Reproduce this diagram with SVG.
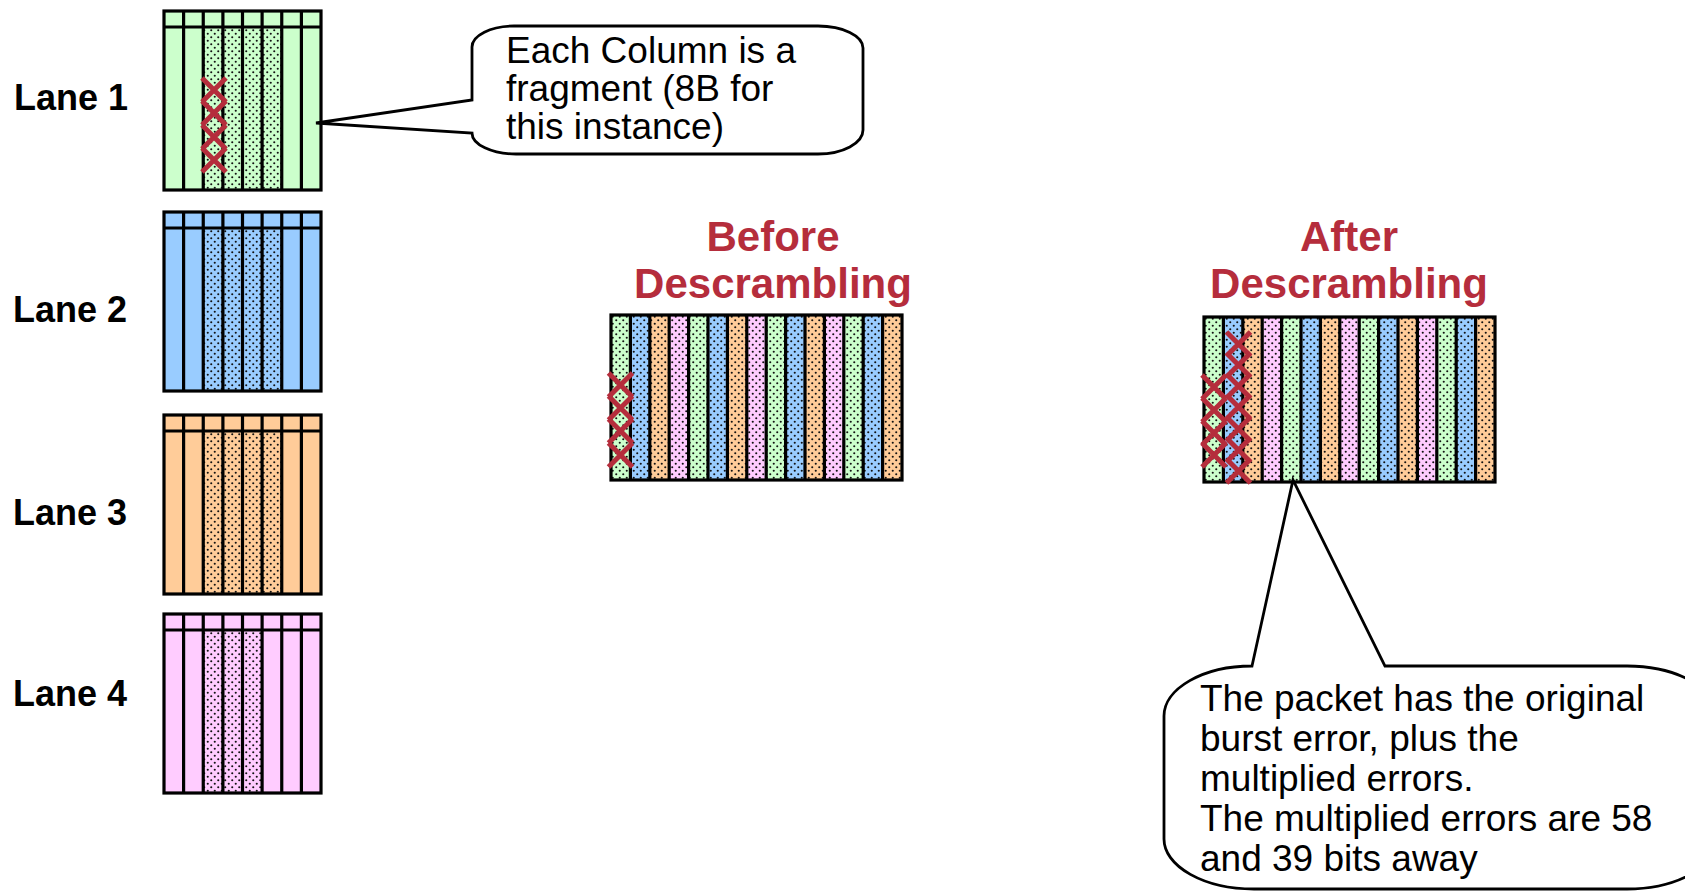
<svg xmlns="http://www.w3.org/2000/svg" xmlns:xlink="http://www.w3.org/1999/xlink" width="1685" height="891" viewBox="0 0 1685 891">
  <style>
    .lbl { font-family: "Liberation Sans", Arial, sans-serif; font-weight: bold; font-size: 36px; fill: #000; }
    .ttl { font-family: "Liberation Sans", Arial, sans-serif; font-weight: bold; font-size: 42px; fill: #B52D3C; text-anchor: middle; }
    .txt { font-family: "Liberation Sans", Arial, sans-serif; font-size: 37px; fill: #000; }
    .grid { fill: none; stroke: #000; stroke-width: 3.2; }
    .bubble { fill: #fff; stroke: #000; stroke-width: 2.8; stroke-linejoin: miter; }
    .err { fill: none; stroke: #B52D3C; stroke-width: 5; stroke-linecap: butt; }
    .g { fill: #CCFFCC; } .b { fill: #99CCFF; } .o { fill: #FFCC99; } .p { fill: #FFCCFF; }
    .dot { fill: url(#dots); }
  </style>
  <defs>
    <!-- stipple used for the shaded fragments -->
    <pattern id="dots" patternUnits="userSpaceOnUse" width="7" height="7">
      <circle cx="1.75" cy="1.75" r="1.05" fill="#111"/>
      <circle cx="5.25" cy="5.25" r="1.05" fill="#111"/>
    </pattern>
    <!-- one bit error mark -->
    <path id="x" class="err" d="M-12,-12 L12,12 M12,-12 L-12,12"/>
    <!-- lane outline: 8 columns with a header row -->
    <g id="laneGrid">
      <rect class="grid" x="0" y="0" width="157" height="179"/>
      <path class="grid" d="M0,16H157 M19.6,0V179 M39.25,0V179 M58.9,0V179 M78.5,0V179 M98.1,0V179 M117.75,0V179 M137.4,0V179"/>
    </g>
    <!-- packet strip: 15 stippled columns in lane order -->
    <g id="strip">
      <rect class="g" x="0" y="0" width="19.4" height="165"/>
      <rect class="b" x="19.4" y="0" width="19.4" height="165"/>
      <rect class="o" x="38.8" y="0" width="19.4" height="165"/>
      <rect class="p" x="58.2" y="0" width="19.4" height="165"/>
      <rect class="g" x="77.6" y="0" width="19.4" height="165"/>
      <rect class="b" x="97" y="0" width="19.4" height="165"/>
      <rect class="o" x="116.4" y="0" width="19.4" height="165"/>
      <rect class="p" x="135.8" y="0" width="19.4" height="165"/>
      <rect class="g" x="155.2" y="0" width="19.4" height="165"/>
      <rect class="b" x="174.6" y="0" width="19.4" height="165"/>
      <rect class="o" x="194" y="0" width="19.4" height="165"/>
      <rect class="p" x="213.4" y="0" width="19.4" height="165"/>
      <rect class="g" x="232.8" y="0" width="19.4" height="165"/>
      <rect class="b" x="252.2" y="0" width="19.4" height="165"/>
      <rect class="o" x="271.6" y="0" width="19.4" height="165"/>
      <rect class="dot" x="0" y="0" width="291" height="165"/>
      <rect class="grid" x="0" y="0" width="291" height="165"/>
      <path class="grid" d="M19.4,0V165 M38.8,0V165 M58.2,0V165 M77.6,0V165 M97,0V165 M116.4,0V165 M135.8,0V165 M155.2,0V165 M174.6,0V165 M194,0V165 M213.4,0V165 M232.8,0V165 M252.2,0V165 M271.6,0V165"/>
    </g>
  </defs>

  <!-- Lane 1 -->
  <g id="lane1">
    <text class="lbl" x="14" y="110">Lane 1</text>
    <g transform="translate(164,11)">
      <rect class="g" x="0" y="0" width="157" height="179"/>
      <rect class="dot" x="39.25" y="16" width="78.5" height="163"/>
      <use xlink:href="#laneGrid"/>
    </g>
    <use xlink:href="#x" x="214" y="90"/>
    <use xlink:href="#x" x="214" y="113"/>
    <use xlink:href="#x" x="214" y="137"/>
    <use xlink:href="#x" x="214" y="160"/>
  </g>

  <!-- Lane 2 -->
  <g id="lane2">
    <text class="lbl" x="13" y="322">Lane 2</text>
    <g transform="translate(164,212)">
      <rect class="b" x="0" y="0" width="157" height="179"/>
      <rect class="dot" x="39.25" y="16" width="78.5" height="163"/>
      <use xlink:href="#laneGrid"/>
    </g>
  </g>

  <!-- Lane 3 -->
  <g id="lane3">
    <text class="lbl" x="13" y="525">Lane 3</text>
    <g transform="translate(164,415)">
      <rect class="o" x="0" y="0" width="157" height="179"/>
      <rect class="dot" x="39.25" y="16" width="78.5" height="163"/>
      <use xlink:href="#laneGrid"/>
    </g>
  </g>

  <!-- Lane 4 -->
  <g id="lane4">
    <text class="lbl" x="13" y="706">Lane 4</text>
    <g transform="translate(164,614)">
      <rect class="p" x="0" y="0" width="157" height="179"/>
      <rect class="dot" x="39.25" y="16" width="58.85" height="163"/>
      <use xlink:href="#laneGrid"/>
    </g>
  </g>

  <!-- Packet before descrambling -->
  <g id="before">
    <text class="ttl" x="773" y="251">Before</text>
    <text class="ttl" x="773" y="298">Descrambling</text>
    <use xlink:href="#strip" transform="translate(611,315)"/>
    <use xlink:href="#x" x="620.5" y="385"/>
    <use xlink:href="#x" x="620.5" y="408"/>
    <use xlink:href="#x" x="620.5" y="431"/>
    <use xlink:href="#x" x="620.5" y="455"/>
  </g>

  <!-- Packet after descrambling: original burst plus multiplied errors -->
  <g id="after">
    <text class="ttl" x="1349" y="251">After</text>
    <text class="ttl" x="1349" y="298">Descrambling</text>
    <use xlink:href="#strip" transform="translate(1204,317)"/>
    <use xlink:href="#x" x="1214" y="387"/>
    <use xlink:href="#x" x="1214" y="410"/>
    <use xlink:href="#x" x="1214" y="433"/>
    <use xlink:href="#x" x="1214" y="455"/>
    <use xlink:href="#x" x="1238.5" y="344"/>
    <use xlink:href="#x" x="1238.5" y="365"/>
    <use xlink:href="#x" x="1238.5" y="386"/>
    <use xlink:href="#x" x="1238.5" y="407"/>
    <use xlink:href="#x" x="1238.5" y="429"/>
    <use xlink:href="#x" x="1238.5" y="450"/>
    <use xlink:href="#x" x="1238.5" y="471"/>
  </g>

  <!-- Callout on the lane columns -->
  <g id="note-fragment">
    <path class="bubble" d="M472,100 L472,47 A42,21 0 0 1 514,26 L818,26 A45,22 0 0 1 863,48 L863,130 A45,24 0 0 1 818,154 L516,154 A44,21 0 0 1 472,133 L316,123 Z"/>
    <text class="txt" x="506" y="63">Each Column is a</text>
    <text class="txt" x="506" y="101">fragment (8B for</text>
    <text class="txt" x="506" y="139">this instance)</text>
  </g>

  <!-- Callout on the descrambled packet -->
  <g id="note-errors">
    <path class="bubble" d="M1252,666 L1293,480 L1385,666 L1627,666 A90,50 0 0 1 1717,716 L1717,839 A90,50 0 0 1 1627,889 L1254,889 A90,50 0 0 1 1164,839 L1164,716 A88,50 0 0 1 1252,666 Z"/>
    <text class="txt" x="1200" y="711">The packet has the original</text>
    <text class="txt" x="1200" y="751">burst error, plus the</text>
    <text class="txt" x="1200" y="791">multiplied errors.</text>
    <text class="txt" x="1200" y="831">The multiplied errors are 58</text>
    <text class="txt" x="1200" y="871">and 39 bits away</text>
  </g>
</svg>
